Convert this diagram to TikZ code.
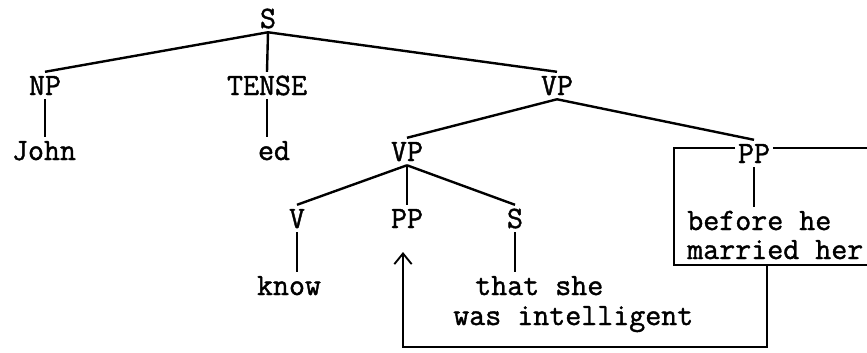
\documentclass[tikz,border=0pt]{standalone}
\usepackage{fontspec}
\newfontfamily\twfont{Latin Modern Mono}[FakeBold=1.3]
\usetikzlibrary{arrows.meta}
\begin{document}
\begin{tikzpicture}[x=0.75pt,y=-0.75pt,
  tx/.style={font=\fontsize{23.3}{28}\selectfont\twfont, anchor=base, inner xsep=2pt, inner ysep=3pt, text height=14.2pt, text depth=0pt},
  wd/.style={tx, anchor=base west, inner xsep=0pt},
  br/.style={line width=1.8pt},
  bx/.style={line width=1.3pt},
  arr/.style={line width=1.4pt, -{Straight Barb[length=8pt,width=13pt,line width=1.4pt]}}]
\useasboundingbox (0,0) rectangle (867,353);
% nodes
\node[tx] (S) at (268,28) {S};
\node[tx] (NP) at (45,95) {NP};
\node[tx] (T) at (267,95) {TENSE};
\node[tx] (VP1) at (557,95) {VP};
\node[tx] (John) at (44,160) {John};
\node[tx] (ed) at (274,160) {ed};
\node[tx] (VP2) at (407,161) {VP};
\node[tx] (PP2) at (754,163) {PP};
\node[tx] (V) at (297,228) {V};
\node[tx] (PPm) at (407,228) {PP};
\node[tx] (Sm) at (515,228) {S};
\node[tx] (know) at (289,295) {know};
\node[wd] (that) at (475,295) {that she};
\node[wd] (was) at (453,325) {was intelligent};
\node[wd] (bef) at (687,230) {before he};
\node[wd] (mar) at (687,259) {married her};
% tree edges
\draw[br] (S.south) -- (NP.north);
\draw[br] (S.south) -- (T.north);
\draw[br] (S.south) -- (VP1.north);
\draw[br] (NP.south) -- (NP.south |- John.north);
\draw[br] (T.south) -- (T.south |- ed.north);
\draw[br] (VP1.south) -- (VP2.north);
\draw[br] (VP1.south) -- (PP2.north);
\draw[br] (VP2.south) -- (V.north);
\draw[br] (VP2.south) -- (PPm.north);
\draw[br] (VP2.south) -- (Sm.north);
\draw[br] (V.south) -- (V.south |- know.north);
\draw[br] (Sm.south) -- (Sm.south |- that.north);
\draw[bx] (PP2.south) -- (PP2.south |- bef.north);
% box and movement arrow
\coordinate (btl) at (674,148);
\coordinate (btr) at (867,148);
\coordinate (bbl) at (674,265);
\coordinate (bbr) at (867,265);
\coordinate (drop) at (767,265);
\coordinate (tip) at (403,252);
\draw[bx] (PP2.west |- btl) -- (btl) -- (bbl) -- (bbr);
\draw[bx] (PP2.east |- btr) -- (btr);
\draw[arr] (drop) -- ++(0,82) -| (tip);
\end{tikzpicture}
\end{document}
